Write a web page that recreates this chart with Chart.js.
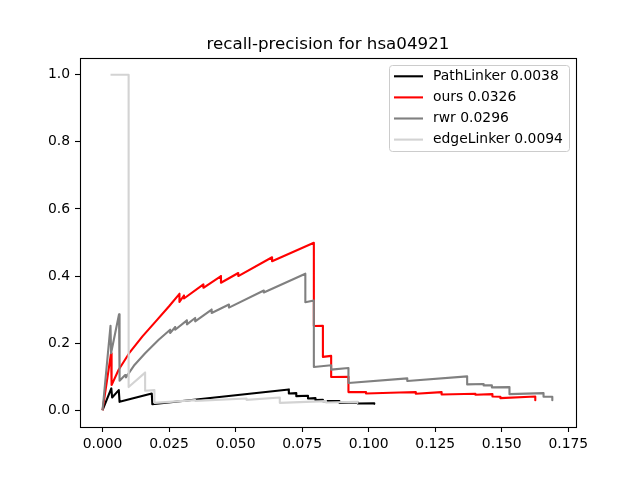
<!DOCTYPE html>
<html>
<head>
<meta charset="utf-8">
<script src="https://cdn.jsdelivr.net/npm/chart.js@4/dist/chart.umd.min.js"></script>
<style>
  html, body { margin: 0; padding: 0; background: #fff; }
  canvas { display: block; }
</style>
</head>
<body>
<canvas id="prChart" width="640" height="480"></canvas>
<script>
// Dados (recall, precision)
const seriesLabels = ['PathLinker 0.0038', 'ours 0.0326', 'rwr 0.0296', 'edgeLinker 0.0094'];

const pathLinkerRecall    = [0, 0.0033, 0.0036, 0.0061, 0.0064, 0.0185, 0.0187, 0.0700, 0.0700, 0.0728, 0.0728, 0.0772, 0.0772, 0.0800, 0.0800, 0.0828, 0.0828, 0.0890, 0.0890, 0.0959, 0.0959, 0.1021, 0.1021];
const pathLinkerPrecision = [0, 0.065, 0.038, 0.060, 0.025, 0.050, 0.018, 0.062, 0.050, 0.051, 0.042, 0.043, 0.035, 0.036, 0.030, 0.031, 0.027, 0.027, 0.022, 0.023, 0.020, 0.021, 0.019];

const oursRecall    = [0, 0.0032, 0.0034, 0.006, 0.010, 0.015, 0.020, 0.025, 0.0289, 0.0289, 0.0306, 0.0306, 0.0379, 0.0379, 0.0445, 0.0445, 0.0510, 0.0510, 0.0637, 0.0637, 0.0794, 0.0794, 0.0828, 0.0828, 0.0859, 0.0859, 0.0924, 0.0924, 0.0990, 0.0990, 0.1115, 0.1177, 0.1177, 0.1274, 0.1274, 0.1401, 0.1401, 0.1465, 0.1465, 0.1495, 0.1495, 0.1626, 0.1626];
const oursPrecision = [0, 0.170, 0.075, 0.120, 0.170, 0.220, 0.265, 0.310, 0.347, 0.323, 0.342, 0.333, 0.375, 0.365, 0.400, 0.380, 0.409, 0.400, 0.456, 0.444, 0.499, 0.251, 0.252, 0.159, 0.162, 0.099, 0.100, 0.054, 0.054, 0.050, 0.053, 0.054, 0.049, 0.054, 0.047, 0.049, 0.046, 0.048, 0.041, 0.040, 0.036, 0.041, 0.030];

const rwrRecall    = [0, 0.0030, 0.0032, 0.0062, 0.0064, 0.0085, 0.0088, 0.012, 0.016, 0.0211, 0.0254, 0.0254, 0.0273, 0.0273, 0.0317, 0.0317, 0.0348, 0.0348, 0.0410, 0.0410, 0.0475, 0.0475, 0.0606, 0.0606, 0.0762, 0.0762, 0.0794, 0.0794, 0.0859, 0.0859, 0.0924, 0.0924, 0.1145, 0.1145, 0.1370, 0.1370, 0.1432, 0.1432, 0.1463, 0.1463, 0.1529, 0.1529, 0.1657, 0.1657, 0.1690, 0.1690];
const rwrPrecision = [0, 0.252, 0.170, 0.286, 0.088, 0.105, 0.098, 0.135, 0.170, 0.210, 0.240, 0.230, 0.248, 0.240, 0.268, 0.256, 0.275, 0.265, 0.300, 0.290, 0.315, 0.306, 0.357, 0.351, 0.407, 0.322, 0.327, 0.129, 0.134, 0.121, 0.126, 0.081, 0.095, 0.087, 0.101, 0.077, 0.078, 0.074, 0.074, 0.068, 0.069, 0.048, 0.051, 0.040, 0.040, 0.030];

const edgeLinkerRecall    = [0.0030, 0.0098, 0.0098, 0.0160, 0.0160, 0.0195, 0.0195, 0.0348, 0.0348, 0.0541, 0.0541, 0.0666, 0.0666, 0.0840, 0.0840, 0.0958, 0.0958];
const edgeLinkerPrecision = [1.0, 1.0, 0.069, 0.112, 0.058, 0.060, 0.022, 0.030, 0.028, 0.035, 0.031, 0.038, 0.022, 0.027, 0.023, 0.025, 0.022];

const xTicks = [0, 0.025, 0.05, 0.075, 0.1, 0.125, 0.15, 0.175];
const yTicks = [0, 0.2, 0.4, 0.6, 0.8, 1.0];

const seriesColors = ['#000000', '#ff0000', '#808080', '#d3d3d3'];

function pontos(recall, precision) {
    return recall.map(function (r, i) { return { x: r, y: precision[i] }; });
}

const allSeries = [
    pontos(pathLinkerRecall, pathLinkerPrecision),
    pontos(oursRecall, oursPrecision),
    pontos(rwrRecall, rwrPrecision),
    pontos(edgeLinkerRecall, edgeLinkerPrecision)
];

const fontFamily = "'DejaVu Sans', sans-serif";

// Moldura, título e legenda no estilo matplotlib
const estiloMpl = {
    id: 'estiloMpl',
    afterDraw(chart) {
        const ctx = chart.ctx;
        const a = chart.chartArea;
        ctx.save();
        ctx.strokeStyle = '#000';
        ctx.lineWidth = 1.1;
        ctx.strokeRect(Math.round(a.left) + 0.5, Math.round(a.top) + 0.5,
            Math.round(a.right - a.left), Math.round(a.bottom - a.top));

        ctx.fillStyle = '#000';
        ctx.font = '16.7px ' + fontFamily;
        ctx.textAlign = 'center';
        ctx.textBaseline = 'alphabetic';
        ctx.fillText('recall-precision for hsa04921', (a.left + a.right) / 2, a.top - 9);

        // legenda
        const bx = 389.5, by = 65.5, bw = 180, bh = 86, r = 3;
        ctx.beginPath();
        ctx.moveTo(bx + r, by);
        ctx.arcTo(bx + bw, by, bx + bw, by + bh, r);
        ctx.arcTo(bx + bw, by + bh, bx, by + bh, r);
        ctx.arcTo(bx, by + bh, bx, by, r);
        ctx.arcTo(bx, by, bx + bw, by, r);
        ctx.closePath();
        ctx.fillStyle = 'rgba(255,255,255,0.8)';
        ctx.fill();
        ctx.strokeStyle = '#cccccc';
        ctx.lineWidth = 1;
        ctx.stroke();

        ctx.font = '13.9px ' + fontFamily;
        ctx.textAlign = 'left';
        ctx.textBaseline = 'middle';
        chart.data.datasets.forEach(function (ds, i) {
            const y = 76.3 + i * 21.1;
            ctx.strokeStyle = ds.borderColor;
            ctx.lineWidth = 2.1;
            ctx.beginPath();
            ctx.moveTo(394, y);
            ctx.lineTo(423, y);
            ctx.stroke();
            ctx.fillStyle = '#000';
            ctx.fillText(ds.label, 433, y);
        });
        ctx.restore();
    }
};

const datasets = allSeries.map(function (pts, i) {
    return {
        label: seriesLabels[i],
        data: pts,
        borderColor: seriesColors[i],
        backgroundColor: seriesColors[i],
        borderWidth: 2.1,
        borderJoinStyle: 'round',
        pointRadius: 0,
        tension: 0,
        fill: false,
        order: seriesLabels.length - i
    };
});

const eixo = {
    display: true,
    drawOnChartArea: false,
    drawTicks: true,
    tickLength: 5,
    tickWidth: 1.1,
    color: '#000'
};

new Chart(document.getElementById('prChart').getContext('2d'), {
    type: 'line',
    data: { datasets: datasets },
    options: {
        responsive: false,
        animation: false,
        devicePixelRatio: 1,
        layout: { padding: { left: 0, right: 64, top: 58, bottom: 0 } },
        plugins: {
            legend: { display: false },
            title: { display: false },
            tooltip: { enabled: false }
        },
        scales: {
            x: {
                type: 'linear',
                min: -0.00847,
                max: 0.1779,
                grid: eixo,
                border: { display: false },
                afterBuildTicks: function (scale) {
                    scale.ticks = xTicks.map(function (v) { return { value: v }; });
                },
                afterFit: function (scale) { scale.height = 53; },
                ticks: {
                    color: '#000',
                    padding: 4,
                    maxRotation: 0,
                    autoSkip: false,
                    font: { family: fontFamily, size: 13.9 },
                    callback: function (v) { return Number(v).toFixed(3); }
                }
            },
            y: {
                type: 'linear',
                min: -0.05,
                max: 1.05,
                grid: eixo,
                border: { display: false },
                afterBuildTicks: function (scale) {
                    scale.ticks = yTicks.map(function (v) { return { value: v }; });
                },
                afterFit: function (scale) { scale.width = 80; },
                ticks: {
                    color: '#000',
                    padding: 5,
                    autoSkip: false,
                    font: { family: fontFamily, size: 13.9 },
                    callback: function (v) { return Number(v).toFixed(1); }
                }
            }
        }
    },
    plugins: [estiloMpl]
});
</script>
</body>
</html>
